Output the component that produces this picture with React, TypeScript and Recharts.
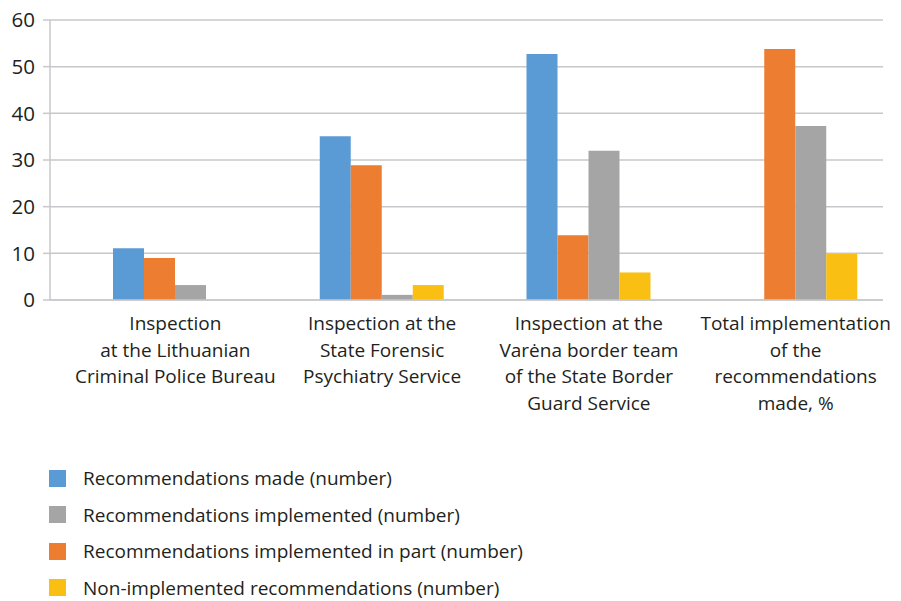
import React from 'react';
import { BarChart, Bar, XAxis, YAxis, CartesianGrid, Legend } from 'recharts';

const categoryLines: string[][] = [
  ['Inspection', 'at the Lithuanian', 'Criminal Police Bureau'],
  ['Inspection at the', 'State Forensic', 'Psychiatry Service'],
  ['Inspection at the', 'Varėna border team', 'of the State Border', 'Guard Service'],
  ['Total implementation', 'of the', 'recommendations', 'made, %'],
];
const categories = categoryLines.map((l) => l.join(' '));

const recommendationsMade = [11.1, 35.1, 52.7, 0];
const implementedInPart = [9.0, 28.9, 13.9, 53.8];
const implemented = [3.2, 1.1, 32.0, 37.3];
const nonImplemented = [0, 3.2, 5.9, 9.9];

const yTicks = [0, 10, 20, 30, 40, 50, 60];

const series = [
  { key: 'made', name: 'Recommendations made (number)', color: '#5b9bd5' },
  { key: 'inPart', name: 'Recommendations implemented in part (number)', color: '#ed7d31' },
  { key: 'implemented', name: 'Recommendations implemented (number)', color: '#a5a5a5' },
  { key: 'nonImpl', name: 'Non-implemented recommendations (number)', color: '#f9c013' },
];
const legendOrder = ['made', 'implemented', 'inPart', 'nonImpl'];

const data = categories.map((c, i) => ({
  category: c,
  made: recommendationsMade[i],
  inPart: implementedInPart[i],
  implemented: implemented[i],
  nonImpl: nonImplemented[i],
}));

const GRID = '#c8c8cc';
const TEXT = '#231f20';
const FONT = '"Open Sans", "Noto Sans", sans-serif';
const LEGEND_ROW = 36.5;

const CategoryTick = (props: any) => {
  const { x, y, payload } = props;
  const lines = categoryLines[payload.index] || [payload.value];
  return (
    <text
      x={x}
      y={y + 22}
      textAnchor="middle"
      fill={TEXT}
      style={{ fontFamily: FONT, fontSize: 19 }}
    >
      {lines.map((l, i) => (
        <tspan key={i} x={x} dy={i === 0 ? 0 : 26.5}>
          {l}
        </tspan>
      ))}
    </text>
  );
};

const renderLegend = () => {
  return (
    <div style={{ fontFamily: FONT, fontSize: 19, color: TEXT }}>
      {legendOrder.map((k) => {
        const s = series.find((x) => x.key === k)!;
        return (
          <div key={k} style={{ display: 'flex', alignItems: 'center', height: LEGEND_ROW }}>
            <div style={{ width: 17, height: 17, background: s.color, marginLeft: 49, marginRight: 17 }} />
            <span>{s.name}</span>
          </div>
        );
      })}
    </div>
  );
};

export default function App() {
  return (
    <div style={{ position: 'absolute', left: 0, top: 0, width: 901, height: 601, background: '#fff' }}>
      <BarChart
        width={901}
        height={601}
        data={data}
        margin={{ top: 20, right: 18, left: 0, bottom: 0 }}
        barSize={31}
        barGap={0}
      >
        <CartesianGrid vertical={false} stroke={GRID} strokeWidth={1.5} />
        <XAxis
          dataKey="category"
          interval={0}
          tick={<CategoryTick />}
          tickLine={false}
          axisLine={{ stroke: GRID, strokeWidth: 1.5 }}
          height={155}
          padding={{ left: 22, right: -16 }}
        />
        <YAxis
          domain={[0, 60]}
          ticks={yTicks}
          interval={0}
          width={50}
          tickSize={7}
          tickMargin={8}
          tickLine={{ stroke: GRID, strokeWidth: 1.5 }}
          axisLine={{ stroke: GRID, strokeWidth: 1.5 }}
          tick={{ fill: TEXT, fontSize: 20.5, fontFamily: FONT }}
        />
        <Legend
          content={renderLegend}
          wrapperStyle={{ position: 'absolute', left: 0, top: 460, width: 600 }}
        />
        {series.map((s) => (
          <Bar key={s.key} dataKey={s.key} name={s.name} fill={s.color} isAnimationActive={false} />
        ))}
      </BarChart>
    </div>
  );
}
